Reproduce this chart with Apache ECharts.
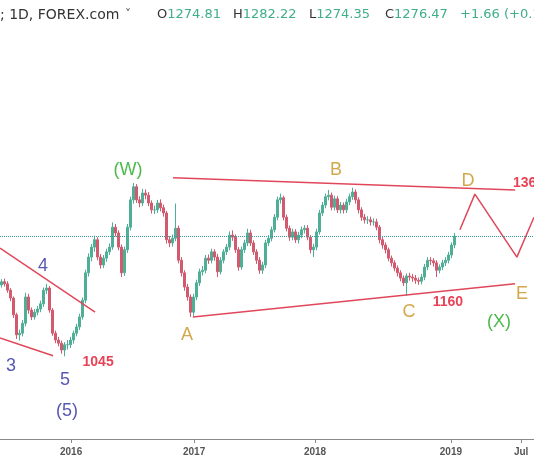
<!DOCTYPE html>
<html><head><meta charset="utf-8">
<script src="https://cdn.jsdelivr.net/npm/echarts@6/dist/echarts.min.js"></script>
<style>html,body{margin:0;padding:0;background:#fff}#c{width:534px;height:462px}</style>
</head><body><div id="c"></div>
<script>
// bar index (x), [open, close, low, high]
const candles = [
[1183,1189,1178,1194],[1189,1185,1180,1195],[1185,1173,1168,1190],[1173,1158,1152,1177],[1158,1126,1120,1161],
[1126,1088,1080,1130],[1088,1091,1077,1098],[1091,1110,1085,1116],[1110,1160,1104,1168],[1160,1135,1128,1166],
[1135,1122,1116,1140],[1122,1131,1117,1137],[1131,1137,1125,1143],[1137,1147,1131,1153],[1147,1173,1141,1178],
[1173,1177,1166,1185],[1177,1135,1130,1181],[1135,1091,1086,1139],[1091,1078,1072,1096],[1078,1072,1066,1084],
[1072,1059,1052,1077],[1059,1069,1047,1074],[1069,1069,1060,1078],[1069,1078,1063,1084],[1078,1091,1071,1096],
[1091,1103,1085,1109],[1103,1122,1097,1128],[1122,1154,1117,1159],[1154,1206,1148,1212],[1206,1236,1199,1243],
[1236,1255,1228,1261],[1255,1269,1246,1277],[1269,1236,1230,1274],[1236,1221,1214,1242],[1221,1234,1215,1240],
[1234,1246,1227,1252],[1246,1255,1240,1262],[1255,1293,1250,1302],[1293,1282,1275,1299],[1282,1255,1249,1287],
[1255,1206,1198,1260],[1206,1250,1200,1256],[1250,1293,1244,1299],[1293,1345,1287,1351],[1345,1370,1338,1377],
[1370,1345,1339,1375],[1345,1339,1331,1352],[1339,1358,1333,1366],[1358,1354,1346,1365],[1354,1339,1333,1360],
[1339,1326,1319,1344],[1326,1326,1318,1334],[1326,1339,1320,1345],[1339,1330,1323,1346],[1330,1320,1313,1336],
[1320,1269,1262,1324],[1269,1263,1255,1276],[1263,1272,1256,1279],[1272,1291,1266,1338],[1291,1230,1224,1296],
[1230,1206,1199,1236],[1206,1179,1172,1211],[1179,1160,1153,1185],[1160,1131,1122,1165],[1131,1160,1124,1166],
[1160,1187,1154,1193],[1187,1208,1181,1214],[1208,1211,1201,1219],[1211,1234,1205,1240],[1234,1230,1223,1241],
[1230,1246,1224,1252],[1246,1236,1229,1251],[1236,1208,1198,1242],[1208,1230,1203,1236],[1230,1246,1224,1251],
[1246,1255,1240,1261],[1255,1278,1249,1285],[1278,1274,1267,1287],[1274,1250,1244,1279],[1250,1217,1210,1255],
[1217,1250,1212,1256],[1250,1263,1244,1269],[1263,1282,1257,1290],[1282,1263,1257,1288],[1263,1246,1240,1268],
[1246,1230,1223,1251],[1230,1211,1204,1236],[1211,1221,1204,1227],[1221,1263,1215,1269],[1263,1272,1257,1278],
[1272,1288,1266,1294],[1288,1312,1283,1318],[1312,1345,1306,1351],[1345,1349,1338,1357],[1349,1312,1306,1353],
[1312,1291,1285,1317],[1291,1274,1267,1296],[1274,1284,1268,1290],[1284,1269,1263,1289],[1269,1278,1262,1284],
[1278,1288,1272,1294],[1288,1291,1281,1297],[1291,1274,1268,1297],[1274,1250,1243,1278],[1250,1255,1236,1261],
[1255,1284,1249,1290],[1284,1320,1279,1326],[1320,1335,1314,1341],[1335,1351,1329,1357],[1351,1354,1344,1364],
[1354,1331,1325,1359],[1331,1347,1325,1353],[1347,1326,1320,1352],[1326,1335,1319,1341],[1335,1326,1319,1340],
[1326,1341,1320,1347],[1341,1351,1335,1357],[1351,1360,1345,1368],[1360,1345,1338,1365],[1345,1326,1319,1350],
[1326,1312,1305,1331],[1312,1307,1300,1318],[1307,1307,1299,1314],[1307,1303,1296,1313],[1303,1303,1296,1310],
[1303,1293,1287,1309],[1293,1269,1262,1297],[1269,1259,1252,1274],[1259,1250,1243,1264],[1250,1234,1228,1254],
[1234,1225,1218,1239],[1225,1215,1209,1230],[1215,1206,1199,1220],[1206,1196,1190,1211],[1196,1187,1181,1201],
[1187,1200,1162,1205],[1200,1198,1191,1206],[1198,1196,1189,1204],[1196,1192,1185,1202],[1192,1190,1183,1197],
[1190,1198,1184,1204],[1198,1217,1192,1223],[1217,1230,1211,1236],[1230,1229,1221,1236],[1229,1225,1218,1234],
[1225,1211,1198,1230],[1211,1217,1205,1222],[1217,1225,1211,1231],[1225,1230,1219,1236],[1230,1240,1224,1246],
[1240,1259,1234,1264],[1259,1276,1253,1282]
];
const tickPos = [23.2, 64.2, 104.5, 149.8, 173.2];
const tickLabels = ['2016', '2017', '2018', '2019', 'Jul'];
const lastPrice = 1276.47;

const headerLeft = '; 1D, FOREX.com';
const ohlcKeys = ['O', 'H', 'L', 'C'];
const ohlcVals = ['1274.81', '1282.22', '1274.35', '1276.47'];
const changeText = '+1.66 (+0.13%)';

const upperLine = [[57.2, 1387], [171.2, 1364]];
const lowerLine = [[63.8, 1122], [171.2, 1185]];
const waveLowLine = [[-0.5, 1082], [17.2, 1048]];
const waveHighLine = [[-0.5, 1253], [31.2, 1131]];
const projection = [[152.8, 1288], [157.8, 1356], [171.8, 1236], [177.5, 1312]];

const annText = ['(W)', 'B', 'D', '1360', '4', '3', '5', '(5)', '1045', 'A', 'C', '1160', 'E', '(X)'];
const annX    = [42.2, 111.5, 155.5, 170.5, 13.8, 3.2, 21.2, 21.8, 32.2, 61.8, 135.8, 148.8, 173.5, 165.8];
const annY    = [1402, 1402, 1381, 1377, 1219, 1029, 1002, 943, 1036, 1088, 1131, 1150, 1166, 1112];
const annKind = ['major', 'letter', 'letter', 'price', 'wave', 'wave', 'wave', 'wave', 'price', 'letter', 'letter', 'price', 'letter', 'major'];

const kindStyle = {
  major:  {color: '#1fa81f', fontSize: 18, fontWeight: 'normal'},
  letter: {color: '#c8921e', fontSize: 18, fontWeight: 'normal'},
  wave:   {color: '#2d2d9e', fontSize: 18, fontWeight: 'normal'},
  price:  {color: '#e3122a', fontSize: 14, fontWeight: 'bold'}
};

const chart = echarts.init(document.getElementById('c'), null, {renderer: 'canvas'});

const annData = annText.map((t, i) => {
  const s = kindStyle[annKind[i]];
  return {
    value: [annX[i], annY[i]],
    label: {
      show: true, formatter: t, position: 'inside',
      align: (t === '1360') ? 'left' : 'center', verticalAlign: 'middle',
      color: s.color, fontSize: s.fontSize, fontWeight: s.fontWeight,
      fontFamily: 'Liberation Sans, Arial, sans-serif'
    }
  };
});

const redLine = (data) => ({
  type: 'line', data: data, symbol: 'none', silent: true, z: 3,
  lineStyle: {color: '#e0475a', width: 1.5}, clip: false
});

const headerX = [157, 233, 309, 385];
const graphics = [
  {type: 'text', left: 0, top: 8, style: {text: headerLeft, fill: '#333', font: '14px "DejaVu Sans", sans-serif'}},
  {type: 'text', left: 125, top: 9, style: {text: '\u02C5', fill: '#555', font: '12px "DejaVu Sans", sans-serif'}}
];
ohlcKeys.forEach((k, i) => {
  graphics.push({type: 'text', left: headerX[i], top: 8, style: {
    text: '{k|' + k + '}{v|' + ohlcVals[i] + '}',
    rich: {
      k: {fill: '#333', font: '13px "DejaVu Sans", sans-serif'},
      v: {fill: '#3fae8a', font: '13px "DejaVu Sans", sans-serif'}
    }
  }});
});
graphics.push({type: 'text', left: 460, top: 8, style: {text: changeText, fill: '#3fae8a', font: '13px "DejaVu Sans", sans-serif'}});

chart.setOption({
  animation: false,
  backgroundColor: '#ffffff',
  grid: {left: 0, right: 0, top: 0, bottom: 23, containLabel: false},
  xAxis: {
    type: 'value', min: -0.5, max: 177.5,
    splitLine: {show: false},
    axisLine: {show: true, lineStyle: {color: '#8a8a8a', width: 1}},
    axisTick: {show: true, customValues: tickPos, length: 4, lineStyle: {color: '#8a8a8a'}},
    axisLabel: {
      customValues: tickPos, margin: 8,
      color: '#555', fontSize: 10, fontWeight: 'bold', fontFamily: 'Liberation Sans, Arial, sans-serif',
      formatter: (v) => {
        let best = 0;
        tickPos.forEach((t, i) => { if (Math.abs(t - v) < Math.abs(tickPos[best] - v)) best = i; });
        return tickLabels[best];
      }
    }
  },
  yAxis: {type: 'value', min: 889.5, max: 1725.7, show: false, splitLine: {show: false}},
  graphic: graphics,
  series: [
    {
      type: 'candlestick', barWidth: 2, z: 2,
      encode: {x: 0, y: [1, 2, 3, 4]},
      data: candles.map((c, i) => [i, c[0], c[1], c[2], c[3]]),
      itemStyle: {color: '#4fae96', color0: '#d25a6e', borderColor: '#4fae96', borderColor0: '#d25a6e', borderWidth: 1},
      markLine: {
        silent: true, symbol: 'none', label: {show: false},
        lineStyle: {color: '#3a9c9c', type: 'dotted', width: 1},
        data: [{yAxis: lastPrice}]
      }
    },
    redLine(upperLine),
    redLine(lowerLine),
    redLine(waveLowLine),
    redLine(waveHighLine),
    redLine(projection),
    {
      type: 'scatter', symbolSize: 0, silent: true, z: 5, clip: false,
      data: annData
    }
  ]
});
</script>
</body></html>
